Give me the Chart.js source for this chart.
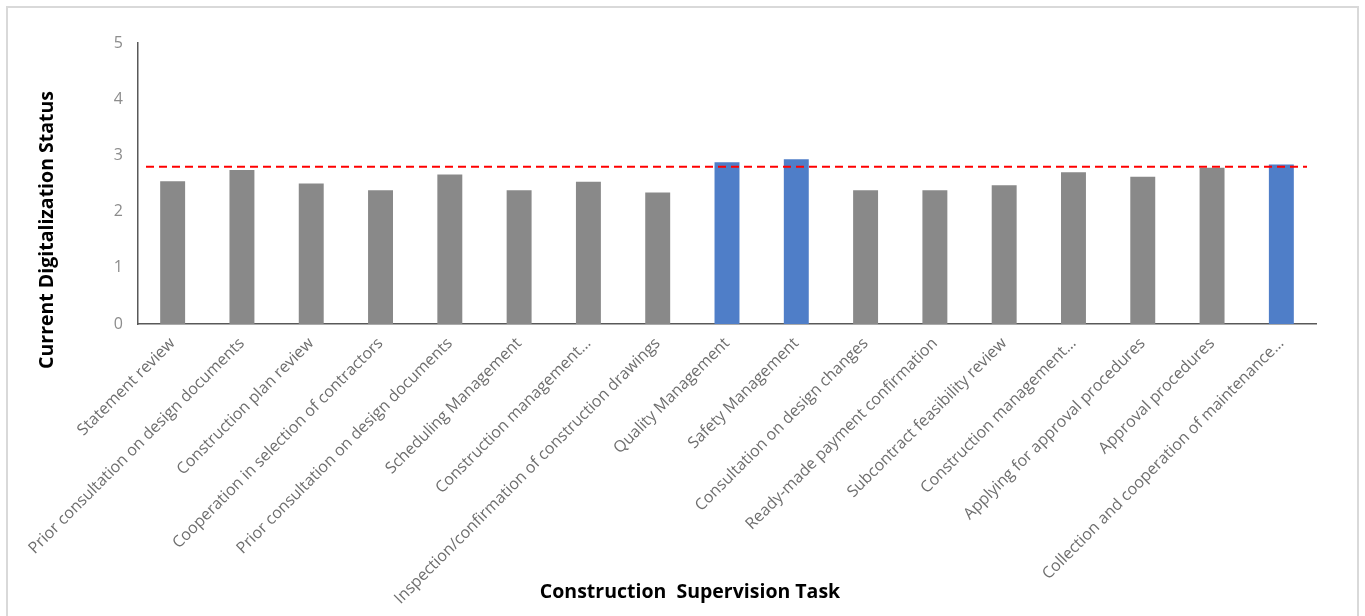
<!DOCTYPE html>
<html>
<head>
<meta charset="utf-8">
<script src="https://cdn.jsdelivr.net/npm/chart.js@4.4.1/dist/chart.umd.min.js"></script>
<style>
    body { margin: 0; background: #fff; overflow: hidden; }
    #frame { position: absolute; left: 6px; top: 6px; width: 1349px; height: 640px; border: 2px solid #d9d9d9; }
    #v { position: absolute; left: 0; top: 0; }
</style>
</head>
<body>
<div id="frame"></div>
<canvas id="v" width="1365" height="616"></canvas>
<script>
const tasks = [
    'Statement review',
    'Prior consultation on design documents',
    'Construction plan review',
    'Cooperation in selection of contractors',
    'Prior consultation on design documents',
    'Scheduling Management',
    'Construction management…',
    'Inspection/confirmation of construction drawings',
    'Quality Management',
    'Safety Management',
    'Consultation on design changes',
    'Ready-made payment confirmation',
    'Subcontract feasibility review',
    'Construction management…',
    'Applying for approval procedures',
    'Approval procedures',
    'Collection and cooperation of maintenance…'
];
const status = [2.54, 2.74, 2.50, 2.38, 2.66, 2.38, 2.53, 2.34, 2.88, 2.93, 2.38, 2.38, 2.47, 2.70, 2.62, 2.78, 2.84];
const aboveAverage = [false, false, false, false, false, false, false, false, true, true, false, false, false, false, false, false, true];
const averageStatus = 2.8;
const yTicks = [0, 1, 2, 3, 4, 5];

(function () {

    const ctx = document.getElementById('v').getContext('2d');

    // red dashed average line + axis titles
    const extras = {
        id: 'extras',
        afterDatasetsDraw(chart) {
            const c = chart.ctx;
            const area = chart.chartArea;
            const y = chart.scales.y.getPixelForValue(averageStatus);
            c.save();
            c.strokeStyle = '#ff0000';
            c.lineWidth = 2;
            c.setLineDash([8, 5]);
            c.beginPath();
            c.moveTo(area.left + 8, y);
            c.lineTo(area.right - 9, y);
            c.stroke();
            c.restore();
        },
        afterDraw(chart) {
            const c = chart.ctx;
            c.save();
            c.fillStyle = '#000';
            c.font = 'bold 19.5px "Open Sans"';
            c.textAlign = 'center';
            c.textBaseline = 'middle';
            c.fillText('Construction  Supervision Task', 690, 592);
            c.translate(47, 230);
            c.rotate(-Math.PI / 2);
            c.fillText('Current Digitalization Status', 0, 0);
            c.restore();
        }
    };

    const config = {
        type: 'bar',
        data: {
            labels: tasks,
            datasets: [{
                label: 'Current Digitalization Status',
                data: status,
                backgroundColor: aboveAverage.map(function (b) { return b ? '#4f7ec8' : '#898989'; }),
                borderWidth: 0,
                barPercentage: 0.36,
                categoryPercentage: 1
            }]
        },
        options: {
            responsive: false,
            animation: false,
            layout: {
                padding: { left: 0, right: 49, top: 43, bottom: 0 }
            },
            scales: {
                x: {
                    grid: { display: false, drawTicks: false },
                    border: { display: true, color: '#595959', width: 1.5 },
                    ticks: {
                        color: '#6e6e6e',
                        font: { family: 'Open Sans', size: 16 },
                        minRotation: 45,
                        maxRotation: 45,
                        autoSkip: false,
                        padding: 10
                    },
                    afterFit: function (s) { s.height = 292; }
                },
                y: {
                    min: 0,
                    max: 5,
                    afterBuildTicks: function (s) { s.ticks = yTicks.map(function (v) { return { value: v }; }); },
                    grid: { display: false, drawTicks: false },
                    border: { display: true, color: '#595959', width: 1.5 },
                    ticks: {
                        color: '#8c8c8c',
                        font: { family: 'Open Sans', size: 16 },
                        padding: 15
                    },
                    afterFit: function (s) { s.width = 138; }
                }
            },
            plugins: {
                legend: { display: false },
                title: { display: false },
                tooltip: { enabled: false }
            }
        },
        plugins: [extras]
    };

    const myChart = new Chart(ctx, config);

})();
</script>
</body>
</html>
